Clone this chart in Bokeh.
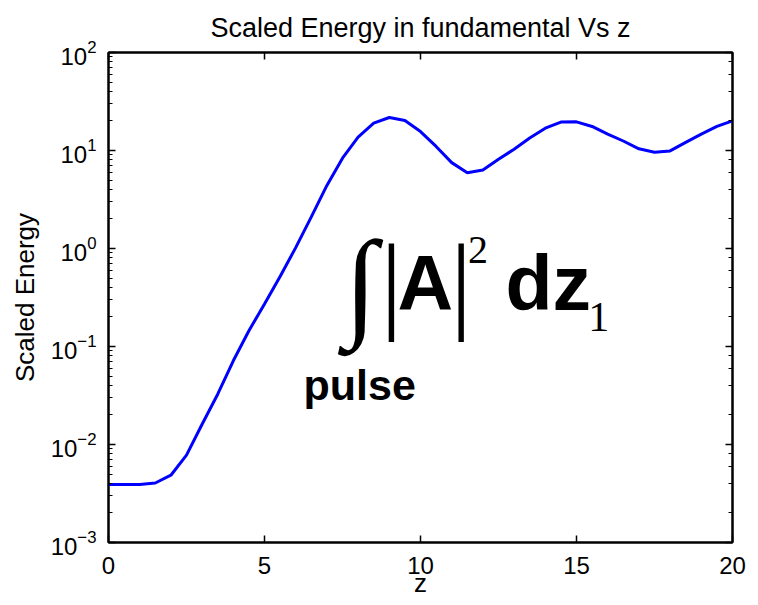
from bokeh.plotting import figure
from bokeh.models import LogAxis, LinearAxis, FixedTicker, Label, Range1d, LogTicker
from bokeh.embed import file_html
from bokeh.resources import INLINE

# ---- data ----
z = [0.0, 0.5, 1.0, 1.5, 2.0, 2.5, 3.0, 3.5, 4.0, 4.5,
     5.0, 5.5, 6.0, 6.5, 7.0, 7.5, 8.0, 8.5, 9.0, 9.5,
     10.0, 10.5, 11.0, 11.5, 12.0, 12.5, 13.0, 13.5, 14.0, 14.5,
     15.0, 15.5, 16.0, 16.5, 17.0, 17.5, 18.0, 18.5, 19.0, 19.5, 20.0]
energy = [0.0039, 0.0039, 0.0039, 0.00405, 0.00486, 0.0078, 0.0161, 0.0326, 0.0715, 0.145,
          0.272, 0.519, 1.02, 2.1, 4.4, 8.34, 13.7, 19.0, 21.7, 20.2,
          15.6, 11.0, 7.52, 5.94, 6.32, 8.15, 10.3, 13.4, 16.9, 19.5,
          19.6, 17.6, 14.7, 12.5, 10.4, 9.6, 9.9, 12.1, 14.7, 17.6, 20.1]
x_ticks = [0, 5, 10, 15, 20]
title_text = "Scaled Energy in fundamental Vs z"
x_label = "z"
y_label = "Scaled Energy"

SANS = "Liberation Sans"
SERIF = "Liberation Serif"

p = figure(width=750, height=605,
           x_range=Range1d(0, 20), y_range=Range1d(1e-3, 1e2),
           y_axis_type="log", output_backend="svg", toolbar_location=None,
           min_border_left=108, min_border_right=18,
           min_border_top=52, min_border_bottom=63,
           title=title_text)

p.title.text_font = SANS
p.title.text_font_size = "27px"
p.title.text_font_style = "normal"
p.title.text_color = "black"
p.title.align = "center"
p.title.standoff = 19
p.grid.visible = False
p.outline_line_color = "black"
p.outline_line_width = 2

def style_axis(ax, minor=True):
    ax.axis_line_color = "black"
    ax.axis_line_width = 2
    ax.major_tick_in = 7
    ax.major_tick_out = 0
    ax.major_tick_line_color = "black"
    ax.major_tick_line_width = 1.5
    if minor:
        ax.minor_tick_in = 4
        ax.minor_tick_out = 0
        ax.minor_tick_line_color = "black"
        ax.minor_tick_line_width = 1.2
    else:
        ax.minor_tick_line_color = None
    ax.major_label_text_font = SANS
    ax.major_label_text_font_size = "24px"
    ax.major_label_text_color = "black"
    ax.axis_label_text_font = SANS
    ax.axis_label_text_font_size = "26px"
    ax.axis_label_text_font_style = "normal"
    ax.axis_label_text_color = "black"

xa = p.xaxis[0]
style_axis(xa, minor=False)
xa.ticker = FixedTicker(ticks=x_ticks)
xa.major_label_standoff = 14
xa.axis_label = x_label
xa.axis_label_standoff = -9

ya = p.yaxis[0]
style_axis(ya)
ya.major_label_standoff = 12
ya.axis_label = y_label
ya.axis_label_standoff = 8

top = LinearAxis(ticker=FixedTicker(ticks=x_ticks))
style_axis(top, minor=False)
top.major_label_text_font_size = "1px"
top.major_label_text_alpha = 0
top.major_label_standoff = 0
p.add_layout(top, "above")

right = LogAxis(ticker=LogTicker())
style_axis(right)
right.major_label_text_font_size = "1px"
right.major_label_text_alpha = 0
right.major_label_standoff = 0
p.add_layout(right, "right")

p.line(z, energy, line_color="#0000ff", line_width=3)

# ---- formula annotation ----
def lab(x, y, text, font, size, style="normal", align="left"):
    p.add_layout(Label(x=x, y=y, text=text, text_font=font,
                       text_font_size=size, text_font_style=style,
                       text_align=align, text_baseline="alphabetic",
                       text_color="black"))

lab(8.077, 0.4365, "\u222b", SERIF, "120px", style="bold", align="center")
lab(9.071, 0.4529, "|", SERIF, "109px", align="center")
lab(9.263, 0.4498, "A", SANS, "77px", style="bold")
lab(11.304, 0.4529, "|", SERIF, "109px", align="center")
lab(11.52, 0.9610, "2", SERIF, "40px")
lab(12.724, 0.4498, "dz", SANS, "77px", style="bold")
lab(15.375, 0.1986, "1", SERIF, "42px")
lab(6.25, 0.04027, "pulse", SANS, "43px", style="bold")

open("out.html", "w").write(file_html(p, INLINE))
